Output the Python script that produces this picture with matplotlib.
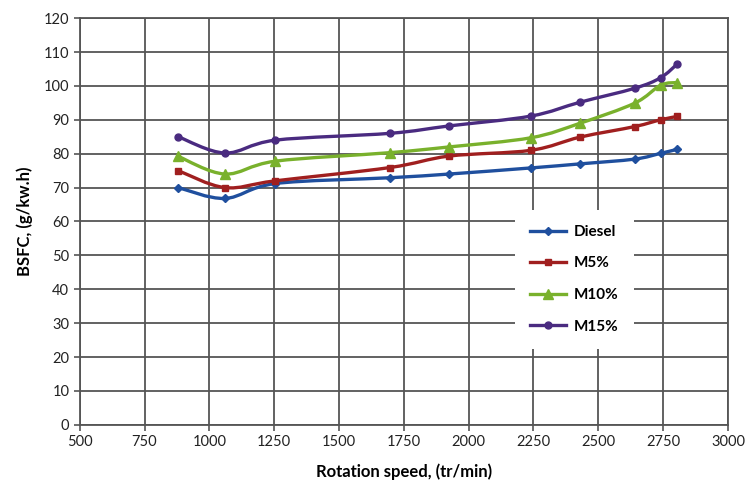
import numpy as np
import matplotlib
matplotlib.use('Agg')
from matplotlib import pyplot as plt
from matplotlib.path import Path
from matplotlib.patches import PathPatch

plt.rcParams['font.family'] = ['Lato', 'DejaVu Sans']

# engine speed (tr/min)
speed = [880, 1060, 1255, 1695, 1925, 2240, 2430, 2640, 2740, 2805]

# BSFC (g/kW.h) per fuel
diesel = [70, 66.8, 71.2, 72.9, 74, 75.8, 77, 78.4, 80.1, 81.3]
m5 = [75, 70, 72, 75.9, 79.3, 81, 84.9, 88, 90, 91]
m10 = [79.2, 74, 77.8, 80.3, 82, 84.7, 89, 94.9, 100.2, 101]
m15 = [85, 80.2, 84, 86, 88.2, 91.1, 95.2, 99.3, 102.4, 106.5]

series = [
    ('Diesel', diesel, '#1f4f9e', 'D', 4.5),
    ('M5%', m5, '#a01f1f', 's', 5),
    ('M10%', m10, '#79b12c', '^', 6.5),
    ('M15%', m15, '#4a2b80', 'o', 5),
]


def smooth_path(x, y, t=1/6):
    # cubic bezier segments through every point (spreadsheet style smoothing)
    x = np.asarray(x, float)
    y = np.asarray(y, float)
    n = len(x)
    verts = [(x[0], y[0])]
    codes = [Path.MOVETO]
    for i in range(n - 1):
        x0, y0 = (x[i - 1], y[i - 1]) if i > 0 else (x[i], y[i])
        x3, y3 = (x[i + 2], y[i + 2]) if i + 2 < n else (x[i + 1], y[i + 1])
        c1 = (x[i] + (x[i + 1] - x0) * t, y[i] + (y[i + 1] - y0) * t)
        c2 = (x[i + 1] - (x3 - x[i]) * t, y[i + 1] - (y3 - y[i]) * t)
        verts += [c1, c2, (x[i + 1], y[i + 1])]
        codes += [Path.CURVE4] * 3
    return Path(verts, codes)


fig = plt.figure(figsize=(7.52, 4.9), dpi=100)
ax = fig.add_axes([0.106, 0.133, 0.862, 0.830])

for name, vals, col, mk, ms in series:
    ax.add_patch(PathPatch(smooth_path(speed, vals), facecolor='none',
                           edgecolor=col, lw=2.4, zorder=3))
    ax.plot(speed, vals, linestyle='none', marker=mk, ms=ms, color=col,
            zorder=4)
    # legend handle
    ax.plot([], [], color=col, lw=2.4, marker=mk, ms=ms, label=name)

ax.set_xlim(500, 3000)
ax.set_ylim(0, 120)
ax.set_xticks(np.arange(500, 3001, 250))
ax.set_yticks(np.arange(0, 121, 10))
ax.grid(True, color='#555555', lw=1.3)
ax.set_axisbelow(True)
for s in ax.spines.values():
    s.set_color('#555555')
    s.set_linewidth(1.3)
ax.tick_params(colors='#222222', labelsize=10.5, length=4, width=1.2,
               color='#555555')

ax.set_xlabel('Rotation speed, (tr/min)', fontsize=12, fontweight='bold',
              labelpad=10)
ax.set_ylabel('BSFC, (g/kw.h)', fontsize=12, fontweight='bold', labelpad=8)

leg = ax.legend(loc='center', bbox_to_anchor=(0.763, 0.358), frameon=True,
                edgecolor='none', facecolor='white', framealpha=1,
                fontsize=11, labelspacing=1.15, handlelength=2.4,
                handletextpad=0.5, borderpad=1.0, borderaxespad=0)
for t in leg.get_texts():
    t.set_fontweight('bold')

fig.savefig('out.png', dpi=100)
